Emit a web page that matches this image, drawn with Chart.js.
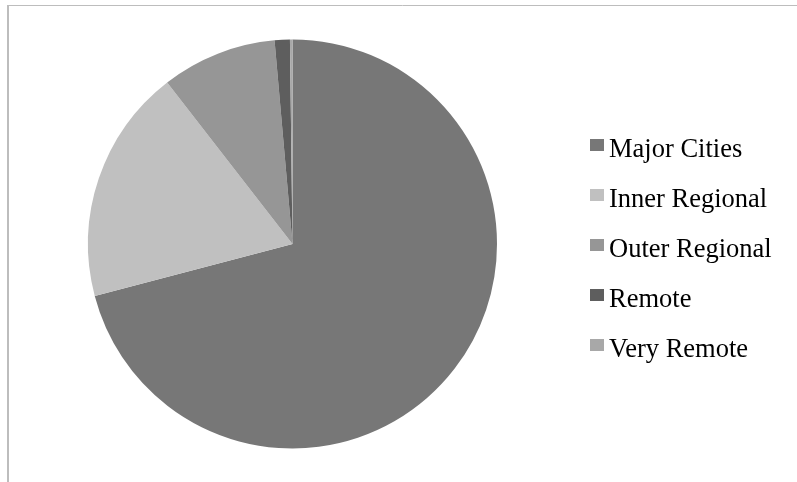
<!DOCTYPE html>
<html>
<head>
<meta charset="utf-8">
<script src="https://cdn.jsdelivr.net/npm/chart.js@4.4.1/dist/chart.umd.min.js"></script>
<style>
  html, body { margin: 0; padding: 0; background: #ffffff; }
  #wrap { position: relative; width: 797px; height: 482px; }
  canvas { display: block; }
</style>
</head>
<body>
<div id="wrap"><canvas id="c" width="797" height="482"></canvas></div>
<script>
const categories = ['Major Cities', 'Inner Regional', 'Outer Regional', 'Remote', 'Very Remote'];
const shares = [70.9, 18.6, 9.1, 1.2, 0.2];
const sliceColors = ['#777777', '#c0c0c0', '#969696', '#5e5e5e', '#a8a8a8'];

const framePlugin = {
  id: 'frame',
  beforeDraw(chart) {
    const ctx = chart.ctx;
    ctx.save();
    ctx.fillStyle = '#ffffff';
    ctx.fillRect(0, 0, chart.width, chart.height);
    ctx.strokeStyle = '#bdbdbd';
    ctx.lineWidth = 1;
    ctx.beginPath();
    ctx.moveTo(8, 5.5);
    ctx.lineTo(chart.width, 5.5);
    ctx.stroke();
    ctx.lineWidth = 2;
    ctx.beginPath();
    ctx.moveTo(8, 5);
    ctx.lineTo(8, chart.height);
    ctx.stroke();
    ctx.restore();
  }
};

const legendPlugin = {
  id: 'sideLegend',
  afterDraw(chart) {
    const ctx = chart.ctx;
    const ds = chart.data.datasets[0];
    const x0 = chart.chartArea.right + 93;
    const base0 = 156.7;
    const gap = 50;
    ctx.save();
    ctx.font = '26.5px "Liberation Serif", "Times New Roman", serif';
    ctx.textBaseline = 'alphabetic';
    ctx.textAlign = 'left';
    chart.data.labels.forEach((lab, i) => {
      const b = base0 + i * gap;
      ctx.fillStyle = ds.backgroundColor[i];
      ctx.fillRect(x0, Math.round(b - 18), 14, 12);
      ctx.fillStyle = '#000000';
      ctx.fillText(lab, x0 + 19, b);
    });
    ctx.restore();
  }
};

new Chart(document.getElementById('c'), {
  type: 'pie',
  data: {
    labels: categories,
    datasets: [{
      data: shares,
      backgroundColor: sliceColors,
      borderWidth: 0
    }]
  },
  options: {
    responsive: false,
    animation: false,
    layout: { padding: { left: 88, right: 300, top: 39, bottom: 33 } },
    plugins: {
      legend: { display: false },
      tooltip: { enabled: false },
      title: { display: false }
    }
  },
  plugins: [framePlugin, legendPlugin]
});
</script>
</body>
</html>
